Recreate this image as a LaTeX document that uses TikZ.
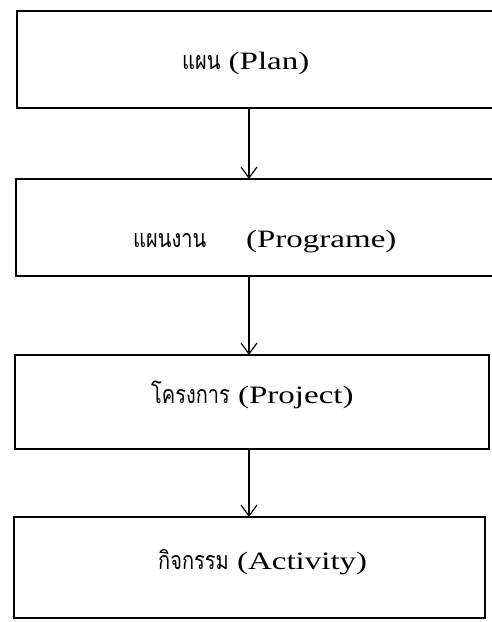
\documentclass[tikz,border=0pt]{standalone}
\usepackage{fontspec}
\setmainfont[FakeStretch=1.32]{Liberation Serif}
\newfontfamily\thaifont[Script=Thai,FakeStretch=0.8]{Loma}
\usetikzlibrary{arrows.meta}
\begin{document}
\begin{tikzpicture}[x=1pt,y=-1pt,
  box/.style={draw=black,line width=1.4pt,line join=miter},
  lbl/.style={anchor=base west,inner sep=0pt,font=\fontsize{25}{28}\selectfont},
  flow/.style={draw=black,line width=1.3pt,-{Straight Barb[length=11pt,width=16pt,line width=1.2pt]}}]
\useasboundingbox (0,0) rectangle (492,622);
\clip (0,0) rectangle (492,622);
% boxes
\draw[box] (17,11) rectangle (500,108) coordinate (b1se);
\coordinate (b1nw) at (17,11);
\draw[box] (16,179) rectangle (500,276);
\coordinate (b2nw) at (16,179); \coordinate (b2se) at (500,276);
\draw[box] (15,355) rectangle (489,449);
\coordinate (b3nw) at (15,355); \coordinate (b3se) at (489,449);
\draw[box] (14,517) rectangle (485,618);
\coordinate (b4nw) at (14,517); \coordinate (b4se) at (485,618);
% axis of connectors
\coordinate (ax) at (249,0);
% labels
\node[lbl] (t1) at (182,69) {{\thaifont แผน} (Plan)};
\node[lbl] (t2) at (133,247) {{\thaifont แผนงาน}\hspace{40pt}(Programe)};
\node[lbl] (t3) at (151,403) {{\thaifont โครงการ} (Project)};
\node[lbl] (t4) at (158,569) {{\thaifont กิจกรรม} (Activity)};
% connectors
\draw[flow] (b1se -| ax) -- (b2nw -| ax);
\draw[flow] (b2se -| ax) -- (b3nw -| ax);
\draw[flow] (b3se -| ax) -- (b4nw -| ax);
\end{tikzpicture}
\end{document}
